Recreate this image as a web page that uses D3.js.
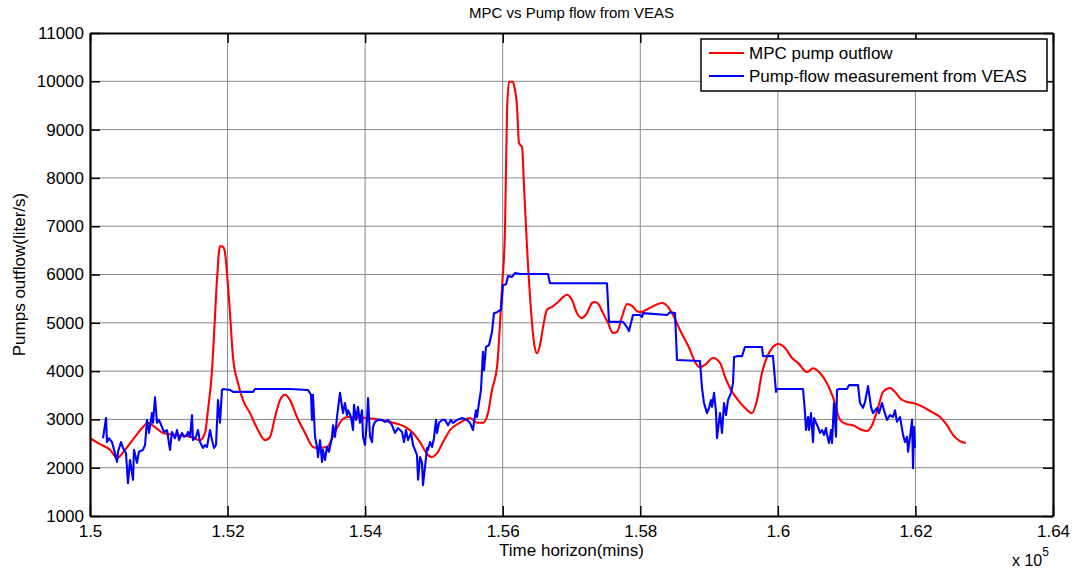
<!DOCTYPE html>
<html><head><meta charset="utf-8">
<script src="https://cdn.jsdelivr.net/npm/d3@7"></script>
<style>body{margin:0;background:#fff}svg{display:block}text{font-family:Arial,"Liberation Sans",sans-serif;fill:#000}</style>
</head><body>
<svg id="c" width="1082" height="571"></svg>
<script>
const title = "MPC vs Pump flow from VEAS";
const xLabel = "Time horizon(mins)";
const yLabel = "Pumps outflow(liter/s)";
const seriesNames = ["MPC pump outflow", "Pump-flow measurement from VEAS"];
const seriesColors = ["#ff0000", "#0000ff"];
const xTicks = [150000,152000,154000,156000,158000,160000,162000,164000];
const yTicks = [1000,2000,3000,4000,5000,6000,7000,8000,9000,10000,11000];

// MPC pump outflow: [time (mins), flow (liter/s)]
const mpcFlow = [
[150000,2610],[150145,2490],[150291,2370],[150393,2200],[150509,2370],[150654,2640],[150756,2820],[150843,2930],
[150945,2840],[151061,2720],[151236,2680],[151454,2640],[151599,2570],[151672,2720],[151715,3190],[151774,4020],
[151803,4750],[151846,5890],[151890,6590],[151934,6570],[151963,6450],[151992,6030],[152035,5200],[152079,4290],
[152152,3750],[152224,3400],[152326,3130],[152442,2780],[152544,2570],[152617,2640],[152690,3050],[152762,3400],
[152835,3510],[152908,3400],[153009,3050],[153126,2720],[153242,2430],[153300,2410],[153446,2430],[153562,2740],
[153664,2990],[153736,3050],[154027,3030],[154216,2990],[154405,2930],[154609,2820],[154696,2720],[154798,2530],
[154914,2260],[154972,2220],[155045,2300],[155132,2530],[155234,2780],[155379,2930],[155524,3030],[155626,2930],
[155713,2930],[155786,3130],[155844,3610],[155917,4080],[155990,5740],[156033,6920],[156062,9340],[156091,9990],
[156149,9990],[156164,9920],[156208,9470],[156237,8720],[156281,8640],[156310,7810],[156353,6570],[156411,5270],
[156455,4580],[156498,4370],[156542,4540],[156586,4910],[156644,5270],[156717,5330],[156804,5430],[156877,5530],
[156935,5580],[157007,5470],[157080,5200],[157153,5100],[157225,5200],[157298,5410],[157342,5430],[157400,5370],
[157458,5200],[157531,5000],[157603,4790],[157661,4810],[157734,5120],[157807,5390],[157880,5350],[157952,5240],
[157996,5220],[158141,5310],[158316,5410],[158403,5330],[158476,5160],[158577,4850],[158723,4440],[158796,4190],
[158868,4080],[158941,4130],[159057,4270],[159159,4170],[159232,3880],[159304,3650],[159421,3400],[159522,3240],
[159624,3130],[159697,3400],[159769,3960],[159842,4290],[159929,4500],[160002,4560],[160104,4480],[160206,4270],
[160293,4170],[160424,3980],[160511,4060],[160613,3960],[160714,3750],[160801,3460],[160904,2990],[161005,2900],
[161092,2880],[161223,2780],[161296,2760],[161369,2880],[161456,3240],[161529,3570],[161630,3650],[161703,3570],
[161776,3440],[161878,3360],[161965,3340],[162110,3260],[162241,3150],[162357,3050],[162459,2880],[162546,2680],
[162648,2550],[162735,2510]
];

// Pump-flow measurement from VEAS: [time (mins), flow (liter/s)]
const veasFlow = [
[150189,2610],[150233,3030],[150247,2530],[150276,2610],[150320,2530],[150349,2370],[150393,2120],[150407,2330],
[150451,2530],[150480,2410],[150523,2300],[150552,1680],[150582,2160],[150625,1750],[150640,2370],[150683,2100],
[150712,2330],[150771,2370],[150800,2470],[150829,2990],[150858,2720],[150901,3130],[150916,2930],[150945,3460],
[150974,2930],[151003,2990],[151047,2840],[151076,2740],[151119,2780],[151134,2640],[151163,2370],[151192,2740],
[151236,2610],[151265,2780],[151294,2570],[151338,2720],[151367,2640],[151410,2680],[151425,2740],[151454,2640],
[151483,3090],[151497,2570],[151541,2640],[151570,2780],[151599,2530],[151643,2410],[151672,2470],[151701,2430],
[151745,2780],[151774,2570],[151803,2410],[151832,2470],[151861,3400],[151890,2930],[151919,3610],[151934,3630],
[152035,3610],[152079,3570],[152370,3570],[152399,3630],[152908,3630],[153169,3610],[153213,3510],[153227,2990],
[153242,3510],[153271,2640],[153300,2430],[153315,2220],[153344,2570],[153373,2120],[153387,2370],[153416,2160],
[153446,2430],[153475,2330],[153518,2640],[153533,2880],[153562,2640],[153591,3050],[153635,3550],[153664,3260],
[153678,3130],[153707,3340],[153736,3090],[153751,3190],[153794,3050],[153824,2780],[153838,3300],[153867,2990],
[153896,3260],[153925,2930],[153954,3190],[153969,2640],[153998,2470],[154027,2990],[154042,3440],[154071,2640],
[154100,2530],[154114,2840],[154143,2950],[154187,2990],[154245,2990],[154289,2950],[154332,2990],[154390,2880],
[154434,2720],[154478,2820],[154536,2740],[154565,2530],[154594,2780],[154623,2570],[154667,2720],[154696,2470],
[154725,2370],[154754,2260],[154769,1750],[154798,2220],[154827,2100],[154841,1640],[154870,2010],[154900,2410],
[154914,2370],[154943,2530],[154972,2430],[155001,2610],[155030,2990],[155045,2720],[155074,2930],[155117,2990],
[155161,2990],[155205,2880],[155248,2990],[155277,2930],[155336,2990],[155408,3030],[155481,2990],[155524,2930],
[155568,2780],[155583,2950],[155612,3190],[155626,3050],[155655,3340],[155684,3610],[155713,4400],[155728,4020],
[155757,4500],[155801,4540],[155844,4810],[155873,5200],[155917,5220],[155975,5270],[156004,5780],[156048,5800],
[156077,5970],[156135,5950],[156179,6030],[156251,6010],[156440,6010],[156658,6010],[156687,5820],[157516,5820],
[157545,5020],[157749,5020],[157807,4910],[157836,4830],[157894,5160],[157996,5160],[158025,5120],[158040,5200],
[158389,5160],[158432,5220],[158505,5200],[158534,4230],[158868,4210],[158897,3650],[158926,3340],[158970,3130],
[158999,3240],[159028,3400],[159043,3260],[159072,3550],[159101,3150],[159115,2610],[159159,3130],[159188,2720],
[159217,3340],[159246,3090],[159275,3400],[159319,3550],[159348,3750],[159363,4290],[159406,4310],[159479,4310],
[159522,4500],[159769,4500],[159784,4310],[159929,4310],[159973,3570],[159988,3630],[160366,3630],[160395,3130],
[160409,2780],[160439,3050],[160453,2780],[160482,3130],[160511,2530],[160526,3030],[160555,2930],[160584,2840],
[160613,2720],[160642,2780],[160671,2680],[160700,2820],[160714,2680],[160743,2510],[160773,2780],[160787,2510],
[160816,3340],[160845,2640],[160860,3610],[160889,3630],[161005,3630],[161034,3710],[161165,3710],[161194,3340],
[161238,3240],[161267,3360],[161311,3690],[161354,3260],[161383,3130],[161442,3240],[161471,3130],[161514,3340],
[161543,3190],[161587,2990],[161630,3090],[161674,3050],[161703,3190],[161732,2950],[161776,3050],[161820,2680],
[161849,2530],[161878,2640],[161893,2330],[161922,2640],[161951,2990],[161965,1990],[161980,2840],[161994,2410]
];

const svg = d3.select("#c");
const L = 90, T = 33, W = 963, H = 483;
const x = d3.scaleLinear().domain([150000,164000]).range([L, L+W]);
const y = d3.scaleLinear().domain([1000,11000]).range([T+H, T]);
const FS = 17;

// grid
const g = svg.append("g");
g.selectAll("line.gx").data(xTicks.slice(1,-1)).enter().append("line")
  .attr("x1", d=>x(d)).attr("x2", d=>x(d)).attr("y1", T).attr("y2", T+H)
  .attr("stroke", "#8a8a8a").attr("stroke-width", 1);
g.selectAll("line.gy").data(yTicks.slice(1,-1)).enter().append("line")
  .attr("y1", d=>y(d)).attr("y2", d=>y(d)).attr("x1", L).attr("x2", L+W)
  .attr("stroke", "#8a8a8a").attr("stroke-width", 1);

// lines
const curves = [d3.curveMonotoneX, d3.curveLinear];
[mpcFlow, veasFlow].forEach((s,i)=>{
  const line = d3.line().x(d=>x(d[0])).y(d=>y(d[1])).curve(curves[i]);
  svg.append("path").datum(s).attr("d", line).attr("fill","none")
    .attr("stroke", seriesColors[i]).attr("stroke-width", 2.1).attr("stroke-linejoin","round");
});

// axes (inward ticks on all sides)
const fmtX = d => String(+(d/1e5).toFixed(2));
const ax = svg.append("g").attr("transform", `translate(0,${T+H})`)
  .call(d3.axisBottom(x).tickValues(xTicks).tickSizeInner(-10).tickSizeOuter(0).tickPadding(18).tickFormat(fmtX));
const axT = svg.append("g").attr("transform", `translate(0,${T})`)
  .call(d3.axisTop(x).tickValues(xTicks).tickSizeInner(-10).tickSizeOuter(0).tickFormat(""));
const ay = svg.append("g").attr("transform", `translate(${L},0)`)
  .call(d3.axisLeft(y).tickValues(yTicks).tickSizeInner(-10).tickSizeOuter(0).tickPadding(6).tickFormat(d3.format("d")));
const ayR = svg.append("g").attr("transform", `translate(${L+W},0)`)
  .call(d3.axisRight(y).tickValues(yTicks).tickSizeInner(-10).tickSizeOuter(0).tickFormat(""));
[ax, axT, ay, ayR].forEach(a=>{
  a.select(".domain").attr("stroke","#000").attr("stroke-width",2.2);
  a.selectAll(".tick line").attr("stroke","#000").attr("stroke-width",1.5);
  a.selectAll("text").attr("font-size", FS).attr("font-family","Arial,'Liberation Sans',sans-serif").attr("fill","#000");
});
ax.selectAll("text").attr("dy","0.2em");

// titles
svg.append("text").attr("x", L+W/2).attr("y", 18).attr("text-anchor","middle").attr("font-size", FS-2).text(title);
svg.append("text").attr("x", L+W/2).attr("y", 556).attr("text-anchor","middle").attr("font-size", FS).text(xLabel);
svg.append("text").attr("transform", `translate(25,${T+H/2}) rotate(-90)`).attr("text-anchor","middle").attr("font-size", FS).text(yLabel);
const ex = svg.append("text").attr("x", 1012).attr("y", 566).attr("font-size", FS-1);
ex.append("tspan").text("x 10");
ex.append("tspan").attr("dy", -10).attr("font-size", 12).text("5");

// legend
const lg = svg.append("g");
lg.append("rect").attr("x",701).attr("y",39).attr("width",346).attr("height",52)
  .attr("fill","#fff").attr("stroke","#000").attr("stroke-width",1.5);
seriesNames.forEach((n,i)=>{
  const yy = 53 + i*23;
  lg.append("line").attr("x1",709).attr("x2",744).attr("y1",yy).attr("y2",yy).attr("stroke",seriesColors[i]).attr("stroke-width",1.8);
  lg.append("text").attr("x",749).attr("y",yy+6).attr("font-size",FS).text(n);
});
</script>
</body></html>
